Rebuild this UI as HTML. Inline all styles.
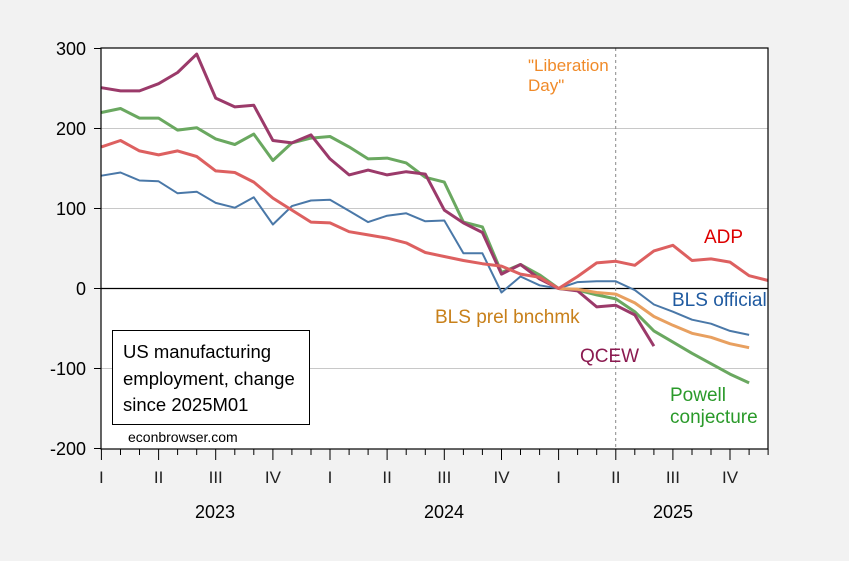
<!DOCTYPE html>
<html><head><style>
body{margin:0;background:#f2f2f2;}
svg{display:block;font-family:"Liberation Sans",sans-serif;}
</style></head><body>
<svg width="849" height="561" viewBox="0 0 849 561">
<rect width="849" height="561" fill="#f2f2f2"/>
<rect x="101" y="48" width="667" height="401" fill="#fff"/>
<g stroke="#c8c8c8" stroke-width="1">
<line x1="101" x2="768" y1="128.5" y2="128.5"/>
<line x1="101" x2="768" y1="208.5" y2="208.5"/>
<line x1="101" x2="768" y1="368.5" y2="368.5"/>
</g>
<line x1="101" x2="768" y1="288.5" y2="288.5" stroke="#000" stroke-width="1.2"/>
<line x1="615.7" x2="615.7" y1="48" y2="449" stroke="#888" stroke-width="1" stroke-dasharray="3,3"/>
<g id="s"></g>
<rect x="101" y="48" width="667" height="401" fill="none" stroke="#000" stroke-width="1.2"/>
<g font-size="18" fill="#000" text-anchor="end">
<text x="86" y="55">300</text><text x="86" y="135">200</text><text x="86" y="215">100</text>
<text x="86" y="295">0</text><text x="86" y="375">-100</text><text x="86" y="455">-200</text>
</g>
<g stroke="#000" stroke-width="1">
<line x1="94" x2="101" y1="48.5" y2="48.5"/><line x1="94" x2="101" y1="128.5" y2="128.5"/><line x1="94" x2="101" y1="208.5" y2="208.5"/><line x1="94" x2="101" y1="288.5" y2="288.5"/><line x1="94" x2="101" y1="368.5" y2="368.5"/><line x1="94" x2="101" y1="448.5" y2="448.5"/>
</g>
<g id="ticks" stroke="#000" stroke-width="1"></g>
<g font-size="17" fill="#222" text-anchor="middle" id="ql"></g>
<g font-size="18" fill="#000" text-anchor="middle">
<text x="215" y="518">2023</text><text x="444" y="518">2024</text><text x="673" y="518">2025</text>
</g>
<g font-size="17">
<text x="528" y="71" fill="#f08a28">"Liberation</text>
<text x="528" y="91" fill="#f08a28">Day"</text>
<text x="704" y="243" fill="#dd0000" font-size="19">ADP</text>
<text x="672" y="306" fill="#1f5aa0" font-size="19">BLS official</text>
<text x="435" y="323" fill="#c8801a" font-size="19">BLS prel bnchmk</text>
<text x="580" y="362" fill="#8b1a50" font-size="19">QCEW</text>
<text x="670" y="401" fill="#2a9a2a" font-size="19">Powell</text>
<text x="670" y="423" fill="#2a9a2a" font-size="19">conjecture</text>
</g>
<rect x="112.5" y="330.5" width="197" height="94" fill="#fff" stroke="#000"/>
<g font-size="18.5" fill="#000">
<text x="123" y="358">US manufacturing</text>
<text x="123" y="385">employment, change</text>
<text x="123" y="411">since 2025M01</text>
</g>
<text x="128" y="442" font-size="14" fill="#000">econbrowser.com</text>
</svg>
<script>
const X=m=>101.4+19.05*m, Y=v=>288.5-0.8*v;
const series=[
 {c:"#4a78a8",w:2,off:0,d:[141,145,135,134,119,121,107,101,114,80,103,110,111,97,83,91,94,84,85,44,44,-5,15,4,0,8,9,9,-2,-20,-29,-39,-44,-53,-58]},
 {c:"#6aa860",w:3,off:0,d:[220,225,213,213,198,201,187,180,193,160,182,188,190,177,162,163,157,139,133,83,77,20,30,17,0,-2,-8,-13,-29,-53,-67,-81,-94,-107,-118]},
 {c:"#9b3a6a",w:3,off:0,d:[251,247,247,256,270,293,238,227,229,185,182,192,162,142,148,142,146,143,98,82,70,18,30,12,0,-3,-23,-21,-33,-72]},
 {c:"#e8a060",w:3,off:24,d:[0,-1,-5,-7,-18,-35,-46,-56,-61,-69,-74]},
 {c:"#dd6060",w:3,off:0,d:[177,185,172,167,172,165,147,145,133,113,98,83,82,71,67,63,57,45,40,35,31,28,18,14,0,15,32,34,29,47,54,35,37,33,16,10]}
];
let h="";
for(const s of series){h+=`<polyline fill="none" stroke="${s.c}" stroke-width="${s.w}" stroke-linejoin="round" points="${s.d.map((v,i)=>X(i+s.off).toFixed(1)+","+Y(v).toFixed(1)).join(" ")}"/>`;}
document.getElementById("s").innerHTML=h;
let t="",q="";const ql=["I","II","III","IV"];
for(let m=0;m<=35;m++){const x=X(m).toFixed(1);t+=`<line x1="${x}" x2="${x}" y1="449" y2="${m%3==0?460:455}"/>`;
if(m%3==0)q+=`<text x="${x}" y="483">${ql[(m/3)%4]}</text>`;}
document.getElementById("ticks").innerHTML=t;document.getElementById("ql").innerHTML=q;
</script>
</body></html>
